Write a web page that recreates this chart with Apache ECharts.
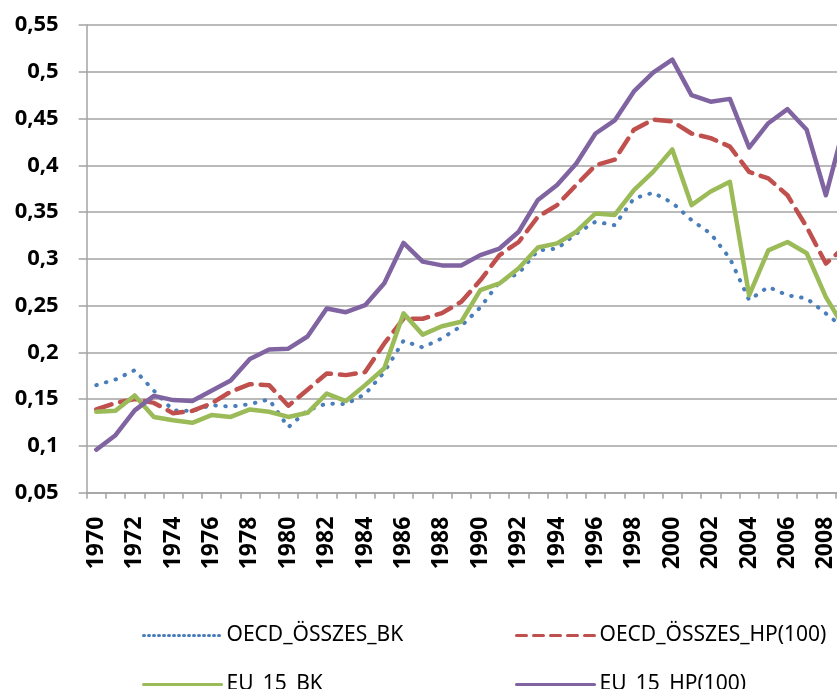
<!DOCTYPE html>
<html lang="hu">
<head>
<meta charset="UTF-8">
<script src="https://cdn.jsdelivr.net/npm/echarts@6/dist/echarts.min.js"></script>
<title>OECD / EU_15</title>
<style>
  html, body { margin: 0; padding: 0; background: #fff; }
  #chart { width: 837px; height: 689px; }
</style>
</head>
<body>
<div id="chart"></div>
<script>
// evek 1970-2009
var years = [];
for (var y = 1970; y <= 2009; y++) years.push(String(y));

var yTicks = { min: 0.05, max: 0.55, step: 0.05 };

var oecdBK = [0.165, 0.171, 0.181, 0.159, 0.138, 0.1375, 0.1436, 0.142, 0.1447, 0.1497,
  0.120, 0.138, 0.1454, 0.1447, 0.1553, 0.179, 0.2124, 0.2053, 0.215, 0.228,
  0.248, 0.2755, 0.2845, 0.309, 0.311, 0.327, 0.3397, 0.336, 0.3646, 0.3707,
  0.360, 0.3415, 0.327, 0.3005, 0.256, 0.270, 0.261, 0.2577, 0.2416, 0.225];

var oecdHP = [0.139, 0.146, 0.150, 0.146, 0.135, 0.1375, 0.1455, 0.158, 0.166, 0.165,
  0.143, 0.160, 0.1775, 0.1757, 0.179, 0.2096, 0.236, 0.236, 0.242, 0.254,
  0.277, 0.304, 0.318, 0.345, 0.3575, 0.379, 0.400, 0.406, 0.438, 0.449,
  0.447, 0.434, 0.429, 0.420, 0.393, 0.386, 0.368, 0.334, 0.295, 0.313];

var euBK = [0.1365, 0.1375, 0.154, 0.131, 0.1275, 0.1247, 0.133, 0.131, 0.139, 0.1365,
  0.131, 0.1354, 0.156, 0.148, 0.165, 0.183, 0.2417, 0.219, 0.228, 0.2327,
  0.2666, 0.2737, 0.290, 0.3122, 0.3165, 0.329, 0.3486, 0.347, 0.3735, 0.393,
  0.417, 0.3575, 0.372, 0.3824, 0.261, 0.309, 0.318, 0.306, 0.259, 0.225];

var euHP = [0.096, 0.1115, 0.138, 0.1535, 0.149, 0.148, 0.159, 0.170, 0.193, 0.203,
  0.204, 0.217, 0.247, 0.243, 0.2505, 0.274, 0.317, 0.297, 0.293, 0.293,
  0.304, 0.311, 0.329, 0.363, 0.379, 0.402, 0.434, 0.448, 0.479, 0.499,
  0.513, 0.475, 0.468, 0.471, 0.419, 0.445, 0.460, 0.438, 0.368, 0.446];

var names = ['OECD_ÖSSZES_BK', 'OECD_ÖSSZES_HP(100)', 'EU_15_BK', 'EU_15_HP(100)'];

var gridColor = '#a3a3a3';
var font = 'Noto Sans';

function line(name, data, color, type, width) {
  return {
    name: name,
    type: 'line',
    data: data,
    symbol: 'none',
    showSymbol: false,
    lineStyle: { color: color, width: width, type: type, cap: 'round', join: 'round' },
    itemStyle: { color: color }
  };
}

function legendItem(name, lineType) {
  return { name: name, lineStyle: { width: 3, type: lineType }, itemStyle: { opacity: 0 } };
}

var legendBase = {
  orient: 'vertical', top: 620, itemGap: 28, height: 120,
  itemWidth: 78, itemHeight: 14,
  textStyle: { color: '#000', fontFamily: font, fontSize: 21, lineHeight: 20 }
};

var option = {
  animation: false,
  backgroundColor: '#fff',
  grid: { left: 86.7, top: 25, width: 768, height: 467.7, outerBoundsMode: 'none' },
  xAxis: {
    type: 'category',
    data: years,
    boundaryGap: true,
    axisLine: { lineStyle: { color: gridColor, width: 1.5 } },
    axisTick: { show: true, interval: 0, length: 6, lineStyle: { color: gridColor, width: 1.5 } },
    axisLabel: {
      interval: 1, rotate: 90, margin: 24,
      color: '#000', fontFamily: font, fontWeight: 'bold', fontSize: 23
    }
  },
  yAxis: {
    type: 'value',
    min: yTicks.min, max: yTicks.max, interval: yTicks.step,
    axisLine: { show: true, lineStyle: { color: gridColor, width: 1.5 } },
    axisTick: { show: true, length: 8, lineStyle: { color: gridColor, width: 1.5 } },
    splitLine: { lineStyle: { color: gridColor, width: 1.5 } },
    axisLabel: {
      margin: 28, color: '#000', fontFamily: font, fontWeight: 'bold', fontSize: 22,
      formatter: function (v) { return String(+v.toFixed(2)).replace('.', ','); }
    }
  },
  legend: [
    Object.assign({}, legendBase, {
      left: 137,
      data: [legendItem(names[0], [1, 4]), legendItem(names[2], 'solid')]
    }),
    Object.assign({}, legendBase, {
      left: 510,
      data: [legendItem(names[1], [10, 7]), legendItem(names[3], 'solid')]
    })
  ],
  series: [
    line(names[0], oecdBK, '#4a7ebb', [0.5, 9.5], 4),
    line(names[1], oecdHP, '#c0504d', [16, 9], 4.5),
    line(names[2], euBK, '#9bbb59', 'solid', 4.5),
    line(names[3], euHP, '#8064a2', 'solid', 4.5)
  ]
};

var myChart = echarts.init(document.getElementById('chart'));
myChart.setOption(option);
</script>
</body>
</html>
